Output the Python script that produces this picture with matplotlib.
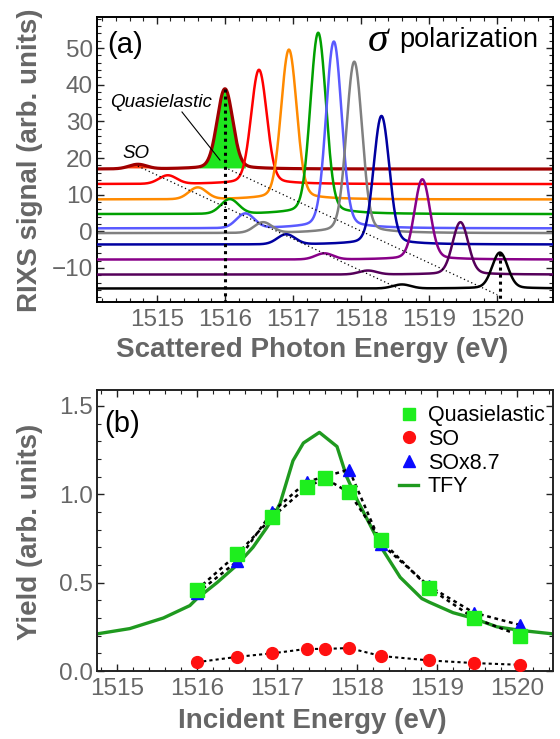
import numpy as np
import matplotlib
matplotlib.use("Agg")
import matplotlib.pyplot as plt
from matplotlib.ticker import MultipleLocator
from matplotlib.lines import Line2D

plt.rcParams['font.family'] = ['Liberation Sans', 'DejaVu Sans']

# ---------------- panel (a) data: RIXS spectra ----------------
incident = [1516.0, 1516.5, 1516.94, 1517.37, 1517.6, 1517.9, 1518.3, 1518.9, 1519.46, 1520.04]
baselines = [17.0, 12.9, 8.7, 4.7, 0.8, -0.5, -3.6, -7.7, -11.8, -15.6]
qe_tops = [38.9, 44.1, 49.6, 54.2, 51.8, 46.3, 31.5, 14.2, 2.5, -5.8]
so_pos = [1514.72, 1515.16, 1515.6, 1516.07, 1516.3, 1516.56, 1516.9, 1517.46, 1518.1, 1518.6]
so_tops = [18.3, 15.3, 12.0, 8.8, 4.9, 2.5, -0.8, -6.0, -10.7, -14.5]
spec_colors = ['#a00000', '#ff0000', '#ff8a00', '#00a000', '#5a5aff',
               '#808080', '#0000a0', '#880088', '#55005a', '#000000']

# guide lines (dotted) endpoints
so_line_x = [1514.72, 1518.6]
so_line_y = [17.8, -16.0]
qe_line_x = [1516.05, 1520.0]
qe_line_y = [17.0, -17.3]

# ---------------- panel (b) data ----------------
inc_b = [1516.0, 1516.5, 1516.94, 1517.37, 1517.6, 1517.9, 1518.3, 1518.9, 1519.46, 1520.04]
quasi = [0.46, 0.66, 0.87, 1.04, 1.09, 1.01, 0.74, 0.47, 0.30, 0.20]
so_b = [0.05, 0.08, 0.10, 0.125, 0.125, 0.13, 0.085, 0.06, 0.045, 0.035]
so_x87 = [0.44, 0.62, 0.90, 1.07, 1.10, 1.14, 0.72, 0.48, 0.33, 0.26]
tfy_x = [1514.75, 1515.16, 1515.58, 1515.91, 1516.0, 1516.25, 1516.5, 1516.7, 1516.87,
         1516.94, 1517.04, 1517.2, 1517.33, 1517.53, 1517.75, 1517.87, 1518.0, 1518.16,
         1518.33, 1518.54, 1518.81, 1518.9, 1519.2, 1519.44, 1519.75, 1520.04, 1520.45]
tfy_y = [0.21, 0.24, 0.30, 0.37, 0.41, 0.50, 0.60, 0.70, 0.81,
         0.86, 0.95, 1.19, 1.29, 1.35, 1.27, 1.10, 0.97, 0.83,
         0.68, 0.53, 0.41, 0.39, 0.33, 0.30, 0.25, 0.23, 0.21]

GRAY = '#666666'

fig = plt.figure(figsize=(5.6, 7.39), dpi=100)
ax1 = fig.add_axes([0.1732, 0.5913, 0.8143, 0.3857])
ax2 = fig.add_axes([0.1732, 0.092, 0.8143, 0.3803])

# ---------------- panel (a) ----------------
xmin, xmax = 1514.12, 1520.82
E = np.linspace(xmin, xmax, 2000)
sig = 0.112
gam = 0.32
sig_so = 0.13
for i in range(len(incident)):
    base = baselines[i]
    A = qe_tops[i] - base
    d = E - incident[i]
    qe = 0.94 * A * np.exp(-0.5 * (d / sig) ** 2) + 0.06 * A * gam ** 2 / (d ** 2 + gam ** 2)
    dso = so_pos[i] - incident[i]
    tail = 0.06 * A * gam ** 2 / (dso ** 2 + gam ** 2)
    S = so_tops[i] - base - tail
    so = S * np.exp(-0.5 * ((E - so_pos[i]) / sig_so) ** 2)
    y = base + qe + so
    if i == 0:
        m = (E > 1515.62) & (E < 1516.3)
        ax1.fill_between(E[m], base + 0.3, y[m], color='#1ee61e', lw=0, zorder=1)
        m2 = (E > 1514.45) & (E < 1514.98)
        ax1.fill_between(E[m2], base + 0.3, y[m2], color='#ff4010', lw=0, zorder=1)
        ax1.plot(E, y, color=spec_colors[i], lw=2.3, zorder=2 + i * 0.1)
    else:
        ax1.plot(E, y, color=spec_colors[i], lw=1.8, zorder=2 + i * 0.1)

ylo, yhi = -19.3, 58.5
ax1.plot(so_line_x, so_line_y, color='black', lw=0.9, ls=(0, (1, 2.2)), zorder=4)
ax1.plot(qe_line_x, qe_line_y, color='black', lw=0.9, ls=(0, (1, 2.2)), zorder=4)
ax1.plot([incident[0], incident[0]], [qe_tops[0], ylo], color='black', lw=2.2,
         ls=(0, (1, 1.3)), zorder=5)
ax1.plot([incident[-1], incident[-1]], [qe_tops[-1], ylo], color='black', lw=2.2,
         ls=(0, (1, 1.3)), zorder=5)

ax1.set_xlim(xmin, xmax)
ax1.set_ylim(ylo, yhi)
ax1.xaxis.set_major_locator(MultipleLocator(1))
ax1.xaxis.set_minor_locator(MultipleLocator(0.2))
ax1.yaxis.set_major_locator(MultipleLocator(10))
ax1.yaxis.set_minor_locator(MultipleLocator(2))

ax1.text(0.0219, 0.8737, '(a)', transform=ax1.transAxes, fontsize=21, ha='left', va='baseline')
ax1.text(0.594, 0.881, 'σ', transform=ax1.transAxes, fontsize=30, ha='left', va='baseline',
         family='Liberation Serif', style='italic')
ax1.text(0.662, 0.895, 'polarization', transform=ax1.transAxes, fontsize=19.5, ha='left',
         va='baseline')
ax1.text(0.0285, 0.684, 'Quasielastic', transform=ax1.transAxes, fontsize=13.5, ha='left',
         va='baseline', style='italic')
ax1.text(0.0548, 0.505, 'SO', transform=ax1.transAxes, fontsize=13.5, ha='left',
         va='baseline', style='italic')
ax1.plot([0.1864, 0.2697], [0.6667, 0.4982], transform=ax1.transAxes, color='black', lw=0.8,
         zorder=6)

# ---------------- panel (b) ----------------
ls_dot = (0, (1.5, 1.5))
ax2.plot(tfy_x, tfy_y, color='#1f9a1f', lw=2.4, zorder=2)
ax2.plot(inc_b, so_x87, color='black', lw=1.8, ls=ls_dot, zorder=3)
ax2.plot(inc_b, quasi, color='black', lw=1.8, ls=ls_dot, zorder=3)
ax2.plot(inc_b, so_b, color='black', lw=1.5, ls=ls_dot, zorder=3)
ax2.plot(inc_b, so_x87, ls='none', marker='^', ms=8.5, color='#0a0aff', mec='#0a0aff', zorder=4)
ax2.plot(inc_b, quasi, ls='none', marker='s', ms=9.5, color='#1eee1e', mec='#1eee1e', zorder=5)
ax2.plot(inc_b, so_b, ls='none', marker='o', ms=8.5, color='#ff1010', mec='#ff1010', zorder=5)

ax2.set_xlim(1514.75, 1520.45)
ax2.set_ylim(0, 1.59)
ax2.xaxis.set_major_locator(MultipleLocator(1))
ax2.xaxis.set_minor_locator(MultipleLocator(0.2))
ax2.yaxis.set_major_locator(MultipleLocator(0.5))
ax2.yaxis.set_minor_locator(MultipleLocator(0.1))
ax2.yaxis.set_major_formatter(matplotlib.ticker.FormatStrFormatter('%.1f'))

ax2.text(0.0154, 0.8505, '(b)', transform=ax2.transAxes, fontsize=21, ha='left', va='baseline')

handles = [
    Line2D([], [], ls='none', marker='s', ms=9, color='#1eee1e'),
    Line2D([], [], ls='none', marker='o', ms=8.5, color='#ff1010'),
    Line2D([], [], ls='none', marker='^', ms=8.5, color='#0a0aff'),
    Line2D([], [], color='#1f9a1f', lw=2.4),
]
labels = ['Quasielastic', 'SO', 'SOx8.7', 'TFY']
ax2.legend(handles, labels, loc='upper left', bbox_to_anchor=(0.662, 0.945), frameon=False,
           fontsize=15.5, handlelength=0.9, handletextpad=0.45, labelspacing=0.12,
           borderpad=0, borderaxespad=0)

# ---------------- common styling ----------------
for ax, sc in ((ax1, 'black'), (ax2, '#222222')):
    for s in ax.spines.values():
        s.set_color(sc)
        s.set_linewidth(1.4)
    ax.tick_params(which='both', direction='in', top=True, right=True, colors='#222222',
                   labelcolor=GRAY, labelsize=17.5)
    ax.tick_params(which='major', length=5, width=1.0)
    ax.tick_params(which='minor', length=3, width=0.8)
    ax.tick_params(axis='y', pad=3)
    ax.tick_params(axis='x', pad=5)

lab = dict(color=GRAY, fontsize=20, fontweight='bold', ha='center', va='center')
fig.text(0.557, 1 - 350 / 739, 'Scattered Photon Energy (eV)', **lab)
fig.text(0.0536, 1 - 160 / 739, 'RIXS signal (arb. units)', rotation=90, **lab)
fig.text(0.558, 1 - 721 / 739, 'Incident Energy (eV)', **lab)
fig.text(0.0536, 1 - 532 / 739, 'Yield (arb. units)', rotation=90, **lab)

fig.savefig('out.png', dpi=100)
